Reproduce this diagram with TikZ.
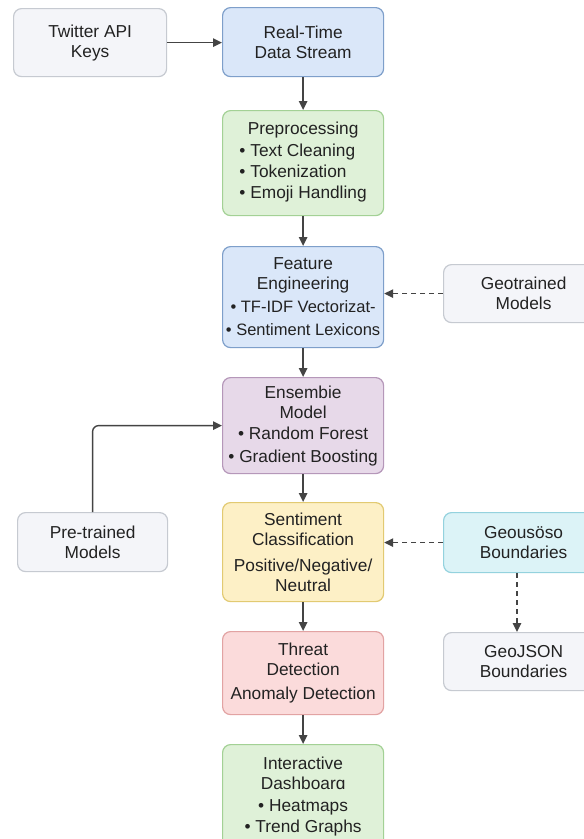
\documentclass[tikz,border=0pt]{standalone}
\usepackage{fontspec}
\setmainfont{Liberation Sans}
\usetikzlibrary{arrows.meta}
\definecolor{grayF}{HTML}{F4F5F9}\definecolor{grayD}{HTML}{C6CAD1}
\definecolor{blueF}{HTML}{DAE7F9}\definecolor{blueD}{HTML}{7E9FCA}
\definecolor{greenF}{HTML}{DFF1D8}\definecolor{greenD}{HTML}{A3D195}
\definecolor{purpF}{HTML}{E7D9E9}\definecolor{purpD}{HTML}{B597B9}
\definecolor{yellF}{HTML}{FDF0C6}\definecolor{yellD}{HTML}{E2CA72}
\definecolor{cyanF}{HTML}{DCF3F7}\definecolor{cyanD}{HTML}{94D2DE}
\definecolor{redF}{HTML}{FBDBDB}\definecolor{redD}{HTML}{E2A3A3}
\definecolor{txt}{HTML}{222222}
\definecolor{arr}{HTML}{444444}
\tikzset{
  box/.style={rounded corners=8pt, line width=1.2pt, align=center, inner sep=0pt,
    anchor=north west, text=txt, font=\fontsize{17.3}{20}\selectfont},
  boxgray/.style={box, fill=grayF, draw=grayD},
  boxblue/.style={box, fill=blueF, draw=blueD},
  boxgreen/.style={box, fill=greenF, draw=greenD},
  boxpurp/.style={box, fill=purpF, draw=purpD},
  boxyell/.style={box, fill=yellF, draw=yellD},
  boxcyan/.style={box, fill=cyanF, draw=cyanD},
  boxred/.style={box, fill=redF, draw=redD},
  conn/.style={draw=arr, line width=1.4pt, -{Triangle[length=9pt,width=8.5pt]}},
  dconn/.style={conn, dash pattern=on 5pt off 4pt}
}
\begin{document}
\begin{tikzpicture}[x=1pt,y=-1pt]
\useasboundingbox (0,0) rectangle (584,839);
\clip (0,0) rectangle (584,839);
\fill[white] (0,0) rectangle (584,839);

\node[boxgray, minimum width=153pt, minimum height=68pt] (keys) at (13,8) {Twitter API\\Keys};
\node[boxblue, minimum width=161pt, minimum height=69pt] (stream) at (222,7) {Real-Time\\Data Stream};
\node[boxgreen, minimum width=161pt, minimum height=105pt] (prep) at (222,110)
  {Preprocessing\\[3pt]{\fontsize{17.3}{21}\selectfont\begin{tabular}{@{}l@{}}• Text Cleaning\\• Tokenization\\• Emoji Handling\end{tabular}}};
\node[boxblue, minimum width=161pt, minimum height=101pt] (feat) at (222,246)
  {Feature\\Engineering\\[3pt]{\fontsize{16.5}{20}\selectfont• TF-IDF Vectorizat-}\\[3pt]{\fontsize{16.5}{20}\selectfont• Sentiment Lexicons}};
\node[boxgray, minimum width=160pt, minimum height=58pt] (geotr) at (443,264) {Geotrained\\Models};
\node[boxpurp, minimum width=161pt, minimum height=96pt] (ens) at (222,377)
  {Ensembie\\Model\\[1pt]• Random Forest\\[3pt]• Gradient Boosting};
\node[boxgray, minimum width=150pt, minimum height=59pt] (pre) at (17,512) {Pre-trained\\Models};
\node[boxyell, minimum width=161pt, minimum height=99pt] (sent) at (222,502)
  {Sentiment\\Classification\\[6pt]Positive/Negative/\\Neutral};
\node[boxcyan, minimum width=160pt, minimum height=60pt] (geous) at (443,512) {Geousöso\\Boundaries};
\node[boxred, minimum width=161pt, minimum height=83pt] (threat) at (222,631)
  {Threat\\Detection\\[4pt]Anomaly Detection};
\node[boxgray, minimum width=160pt, minimum height=58pt] (geojson) at (443,632) {GeoJSON\\Boundaries};
\node[boxgreen, minimum width=161pt, minimum height=103pt] (dash) at (222,744)
  {Interactive\\Dashboarɑ\\[2pt]• Heatmaps\\[1pt]• Trend Graphs};

\draw[conn] (keys.east) -- (keys.east -| stream.west);
\draw[conn] (stream) -- (prep);
\draw[conn] (prep) -- (feat);
\draw[dconn] (geotr.west) -- (geotr.west -| feat.east);
\draw[conn] (feat) -- (ens);
\draw[conn, rounded corners=6pt] (pre.north) |- (ens.west);
\draw[conn] (ens) -- (sent);
\draw[dconn] (geous.west) -- (geous.west -| sent.east);
\draw[dconn] (geous.south -| 517,0) -- (geojson.north -| 517,0);
\draw[conn] (sent) -- (threat);
\draw[conn] (threat) -- (dash);
\end{tikzpicture}
\end{document}
